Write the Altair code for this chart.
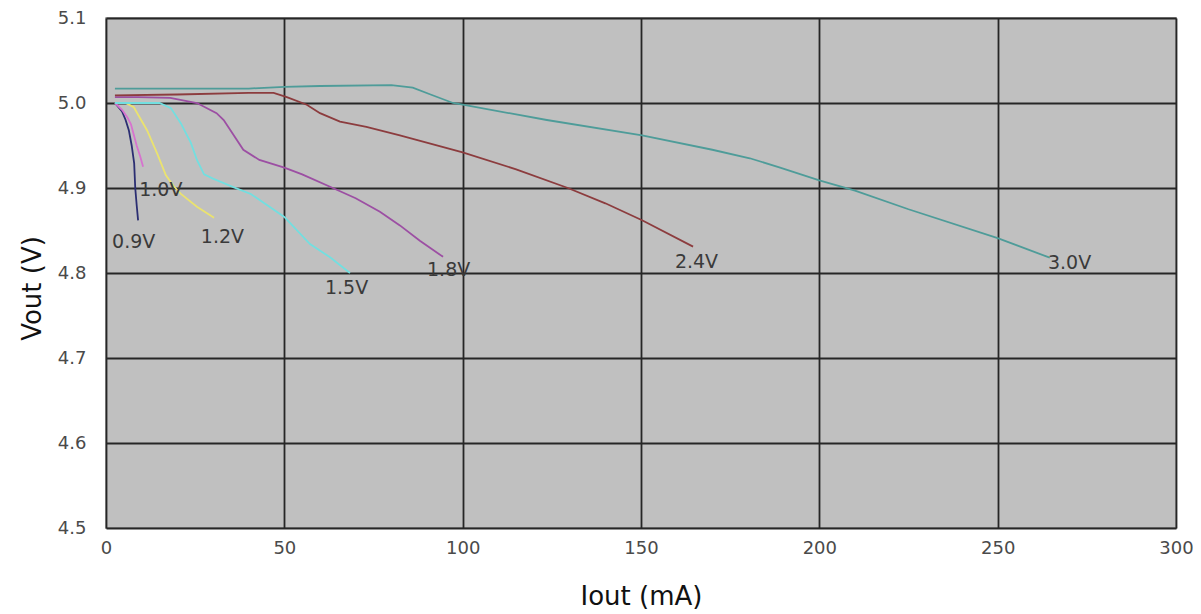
import altair as alt
import pandas as pd

# ---- data ----
series_names = ["0.9V", "1.0V", "1.2V", "1.5V", "1.8V", "2.4V", "3.0V"]
series_colors = ["#2b2e72", "#d772cf", "#ebe36e", "#72dfe0", "#9c4fa3", "#8c3c3e", "#4e9c99"]

v09_x = [2.5, 4.5, 5.5, 6.4, 7.2, 7.9, 8.2, 8.6, 9.0]
v09_y = [5.0, 4.99, 4.98, 4.968, 4.95, 4.929, 4.9, 4.88, 4.862]

v10_x = [2.5, 4.5, 6.0, 7.0, 8.6, 9.6, 10.4]
v10_y = [5.0, 4.992, 4.983, 4.975, 4.95, 4.937, 4.925]

v12_x = [2.5, 5.5, 7.8, 11.5, 14.3, 16.8, 19.0, 21.0, 25.5, 30.3]
v12_y = [5.0, 5.0, 4.995, 4.968, 4.941, 4.915, 4.902, 4.893, 4.878, 4.865]

v15_x = [2.5, 15.0, 18.2, 21.0, 23.8, 25.5, 27.5, 30.0, 35.7, 40.6, 50.0, 57.2, 63.0, 68.4]
v15_y = [5.0, 5.0, 4.994, 4.976, 4.953, 4.933, 4.916, 4.911, 4.901, 4.893, 4.866, 4.834, 4.818, 4.80]

v18_x = [2.5, 9.0, 18.0, 25.5, 31.0, 33.0, 38.5, 43.0, 50.0, 55.0, 63.6, 70.0, 76.8, 82.4, 88.0, 94.5]
v18_y = [5.007, 5.007, 5.006, 5.0, 4.988, 4.98, 4.945, 4.933, 4.924, 4.916, 4.9, 4.888, 4.872, 4.856, 4.838, 4.819]

v24_x = [2.5, 20.0, 40.0, 47.0, 50.7, 56.3, 60.0, 65.6, 73.0, 82.4, 100.0, 115.0, 129.5, 140.0, 150.3, 164.6]
v24_y = [5.009, 5.01, 5.012, 5.012, 5.007, 4.998, 4.988, 4.978, 4.972, 4.962, 4.942, 4.922, 4.9, 4.882, 4.862, 4.831]

v30_x = [2.5, 40.0, 50.0, 60.0, 80.0, 86.0, 91.0, 97.3, 100.0, 123.6, 150.3, 170.0, 180.5, 189.0, 200.0, 210.0, 225.0, 250.0, 264.6]
v30_y = [5.017, 5.017, 5.019, 5.02, 5.021, 5.018, 5.01, 5.0, 4.998, 4.98, 4.962, 4.945, 4.935, 4.924, 4.909, 4.897, 4.875, 4.841, 4.818]

label_x = [1.7, 9.3, 26.6, 61.4, 90.0, 159.5, 264.1]
label_y = [4.836, 4.898, 4.842, 4.782, 4.804, 4.813, 4.812]

x_ticks = [0, 50, 100, 150, 200, 250, 300]
y_ticks = [4.5, 4.6, 4.7, 4.8, 4.9, 5.0, 5.1]

# ---- build tables ----
xs = [v09_x, v10_x, v12_x, v15_x, v18_x, v24_x, v30_x]
ys = [v09_y, v10_y, v12_y, v15_y, v18_y, v24_y, v30_y]
rows = []
for name, sx, sy in zip(series_names, xs, ys):
    for i, (a, b) in enumerate(zip(sx, sy)):
        rows.append({"series": name, "iout": a, "vout": b, "idx": i})
df = pd.DataFrame(rows)
labels = pd.DataFrame({"series": series_names, "iout": label_x, "vout": label_y})

x_scale = alt.Scale(domain=[0, 300], nice=False, zero=False)
y_scale = alt.Scale(domain=[4.5, 5.1], nice=False, zero=False)
color_scale = alt.Scale(domain=series_names, range=series_colors)

x_axis = alt.Axis(values=x_ticks, title="Iout (mA)", grid=True, gridColor="#262626", gridWidth=1.8,
                  ticks=False, tickSize=0, domain=False, labelPadding=11, labelFontSize=18,
                  labelFont="DejaVu Sans", labelColor="#4a4a4a", labelFlush=False,
                  titleFont="DejaVu Sans", titleFontSize=26, titleFontWeight="normal", titleColor="#111111",
                  titleX=535, titleY=68, titleBaseline="middle", titleAlign="center")
y_axis = alt.Axis(values=y_ticks, title="Vout (V)", format=".1f", grid=True, gridColor="#262626", gridWidth=1.8,
                  ticks=False, tickSize=0, domain=False, labelPadding=20, labelFontSize=18,
                  labelFont="DejaVu Sans", labelColor="#4a4a4a", labelFlush=False,
                  titleFont="DejaVu Sans", titleFontSize=26, titleFontWeight="normal", titleColor="#111111",
                  titleX=-74, titleY=270, titleBaseline="middle", titleAlign="center", titleAngle=270)

lines = alt.Chart(df).mark_line(strokeWidth=1.8).encode(
    x=alt.X("iout:Q", scale=x_scale, axis=x_axis),
    y=alt.Y("vout:Q", scale=y_scale, axis=y_axis),
    color=alt.Color("series:N", scale=color_scale, legend=None),
    detail="series:N",
    order="idx:Q",
)

texts = alt.Chart(labels).mark_text(align="left", baseline="middle", font="DejaVu Sans",
                                    fontSize=19, color="#3a3a3a").encode(
    x=alt.X("iout:Q", scale=x_scale),
    y=alt.Y("vout:Q", scale=y_scale),
    text="series:N",
)

chart = alt.layer(lines, texts).properties(
    width=1070, height=510,
    autosize=alt.AutoSizeParams(type="none"),
    padding={"left": 98, "top": 10, "right": 17, "bottom": 86},
    background="white",
).configure_view(fill="#c0c0c0", stroke="#8a8a8a", strokeWidth=1.5)

chart.save("out.html", embed_options={"renderer": "svg", "actions": False})
